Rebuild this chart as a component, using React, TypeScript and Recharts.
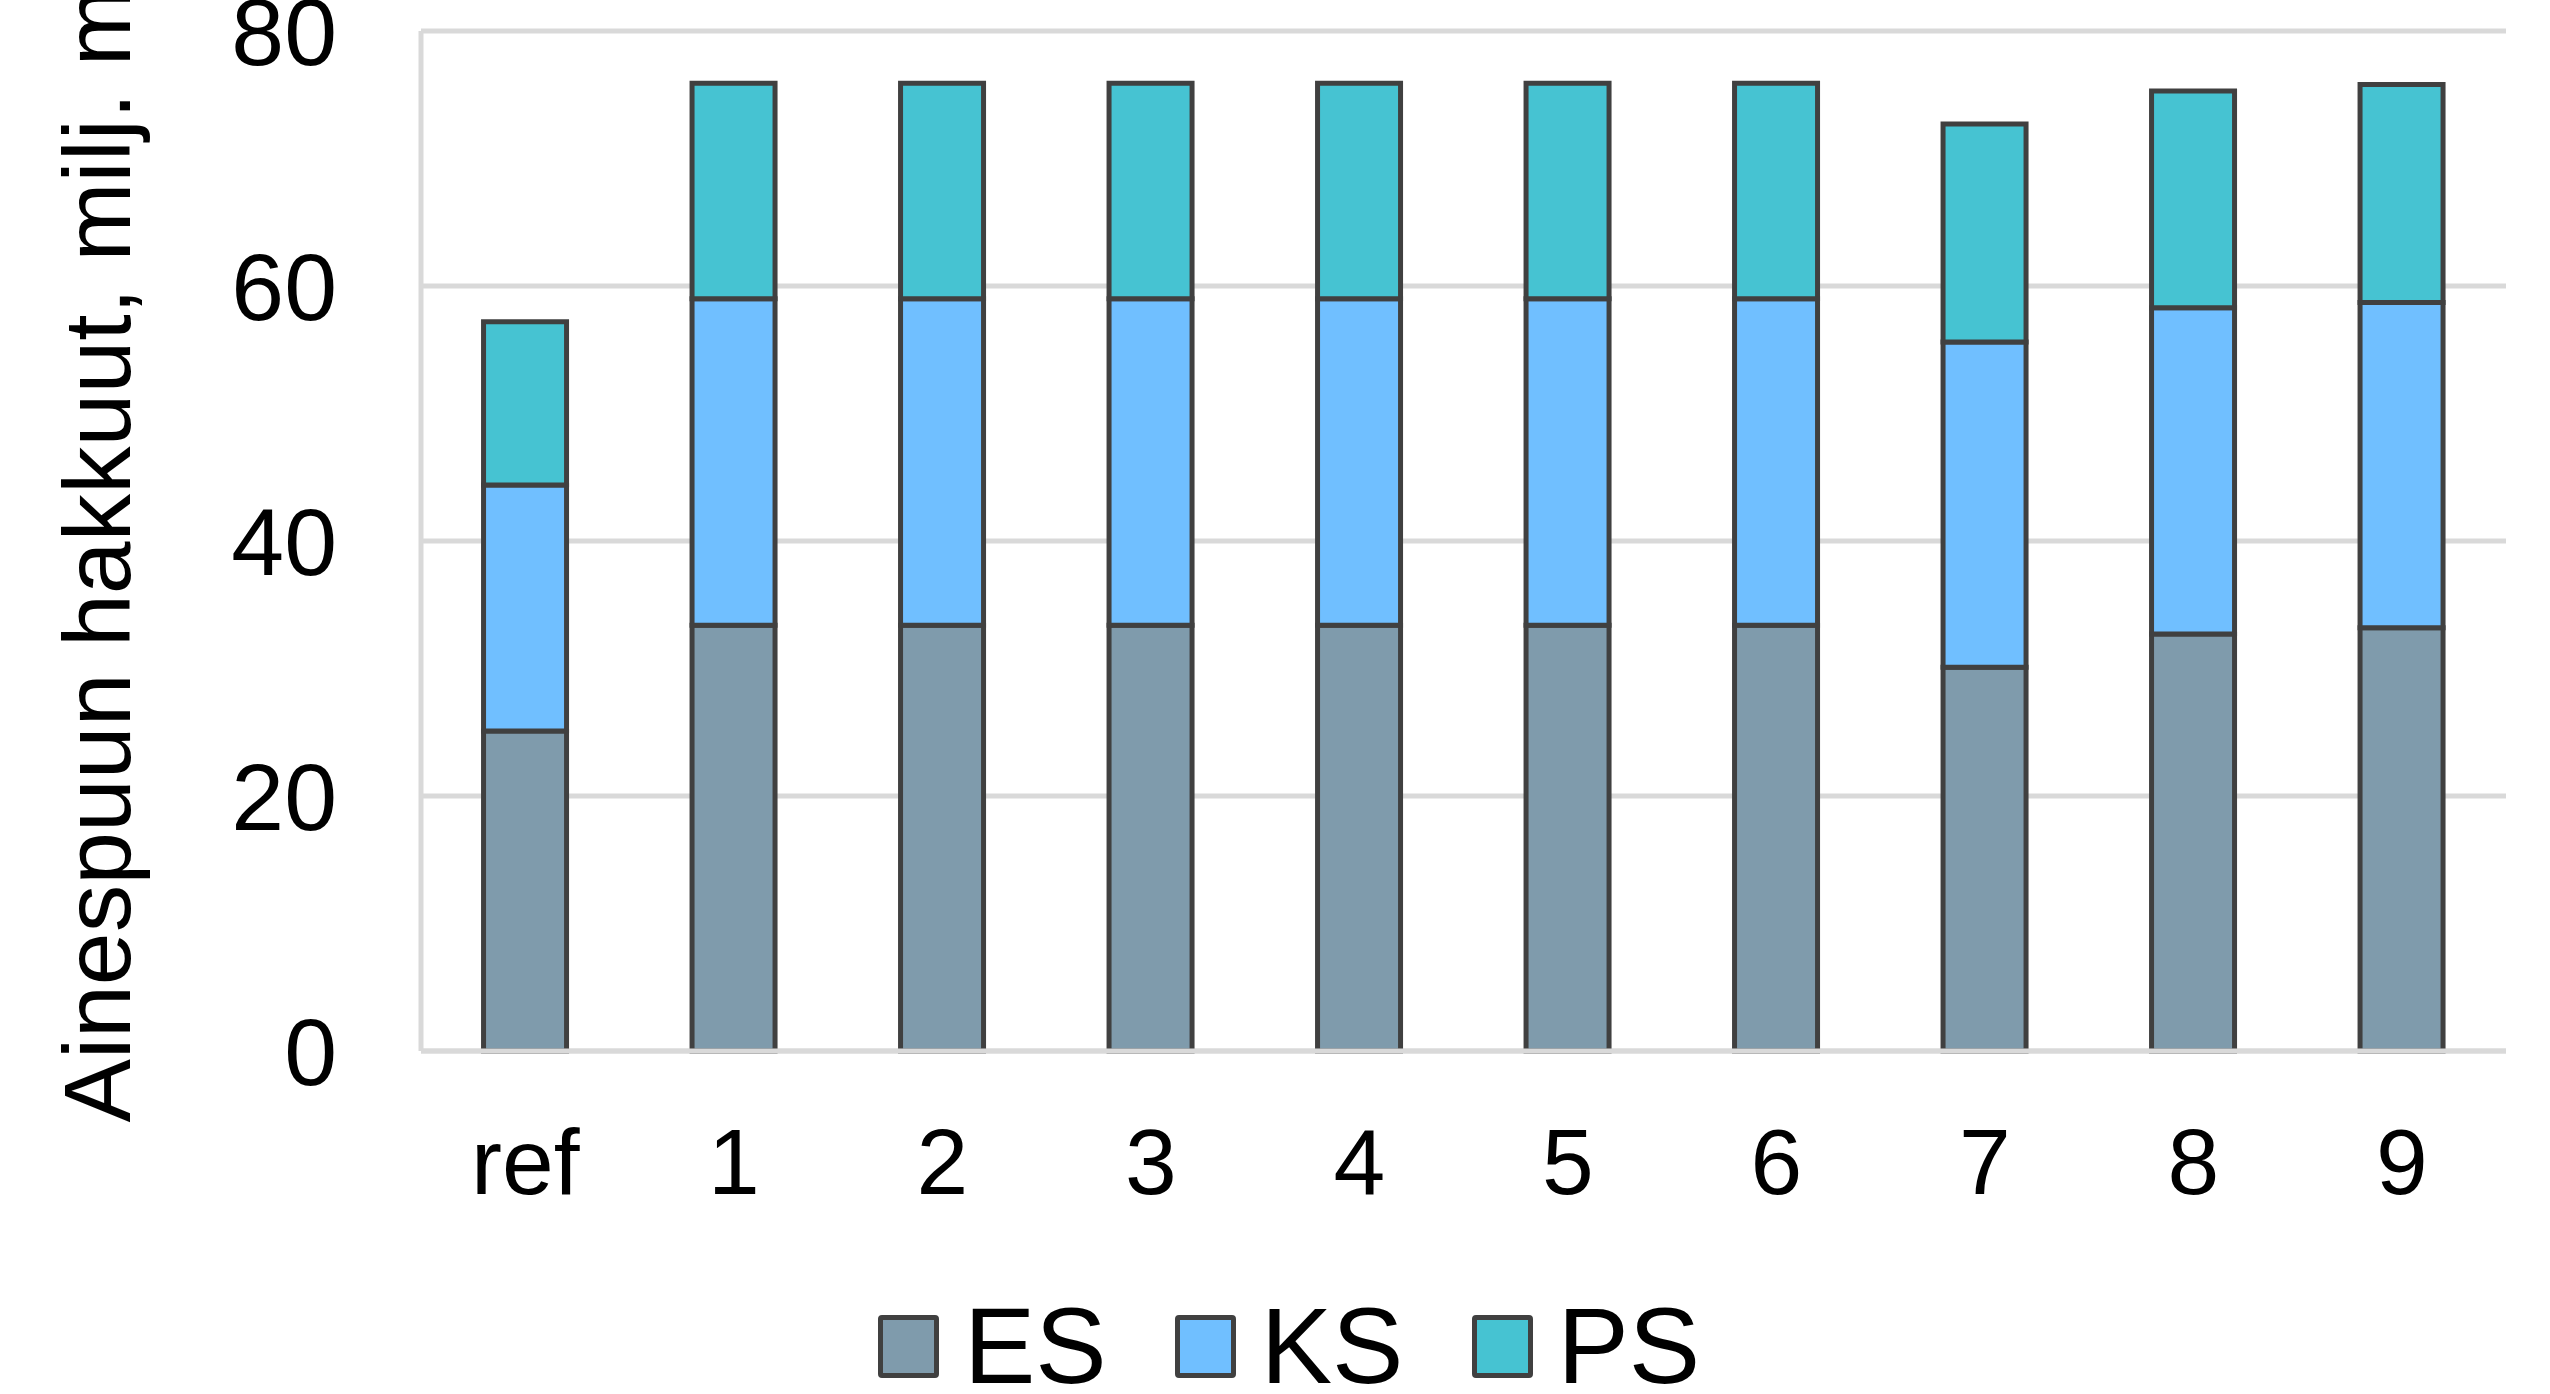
import React from 'react';
import { Bar, BarChart, CartesianGrid, Label, Legend, XAxis, YAxis } from 'recharts';

const categories = ['ref', '1', '2', '3', '4', '5', '6', '7', '8', '9'];
const esValues = [25.1, 33.4, 33.4, 33.4, 33.4, 33.4, 33.4, 30.1, 32.7, 33.2];
const ksValues = [19.3, 25.6, 25.6, 25.6, 25.6, 25.6, 25.6, 25.5, 25.6, 25.5];
const psValues = [12.8, 16.9, 16.9, 16.9, 16.9, 16.9, 16.9, 17.1, 17.0, 17.1];
const yTicks = [0, 20, 40, 60, 80];

const SERIES = [
  { key: 'ES', color: '#7f9bac' },
  { key: 'KS', color: '#70bfff' },
  { key: 'PS', color: '#46c3d2' },
];

const FONT = '"Liberation Sans", Arial, sans-serif';
const EDGE = '#404040';
const GRID = '#d9d9d9';

const data = categories.map((name, i) => ({
  name,
  ES: esValues[i],
  KS: ksValues[i],
  PS: psValues[i],
}));

// legend drawn as plain html so the boxes can get the bar outline
function LegendContent() {
  return (
    <div style={{ display: 'flex', alignItems: 'center', fontFamily: FONT, fontSize: 107, color: '#000' }}>
      {SERIES.map((s, i) => (
        <div key={s.key} style={{ display: 'flex', alignItems: 'center', marginLeft: i === 0 ? 0 : 68 }}>
          <div
            style={{
              width: 51,
              height: 53,
              background: s.color,
              border: `5px solid ${EDGE}`,
              borderRadius: 4,
              marginRight: 25,
            }}
          />
          <span style={{ lineHeight: 'normal' }}>{s.key}</span>
        </div>
      ))}
    </div>
  );
}

function YTitle({ viewBox }: any) {
  const x = 130;
  const y = viewBox.y + viewBox.height / 2 - 2;
  return (
    <text
      x={x}
      y={y}
      transform={`rotate(-90, ${x}, ${y})`}
      textAnchor="middle"
      fontSize={95}
      fontFamily={FONT}
      fill="#000"
    >
      Ainespuun hakkuut, milj. m³
    </text>
  );
}

export default function App() {
  return (
    <div style={{ position: 'absolute', left: 0, top: 0, width: 2550, height: 1394, background: '#fff', overflow: 'hidden' }}>
      <BarChart
        width={2550}
        height={1394}
        data={data}
        margin={{ top: 31, right: 44, bottom: 0, left: 0 }}
        barCategoryGap="30%"
      >
        <CartesianGrid horizontal vertical={false} stroke={GRID} strokeWidth={5} />
        <XAxis
          dataKey="name"
          height={343}
          axisLine={{ stroke: GRID, strokeWidth: 5 }}
          tickLine={false}
          tickSize={0}
          tickMargin={77}
          tick={{ fontSize: 93, fill: '#000', fontFamily: FONT }}
          interval={0}
        />
        <YAxis
          width={421}
          domain={[0, 80]}
          ticks={yTicks}
          interval={0}
          axisLine={{ stroke: GRID, strokeWidth: 5 }}
          tickLine={false}
          tickSize={0}
          tickMargin={84}
          tick={{ fontSize: 95, fill: '#000', fontFamily: FONT }}
        >
          <Label content={YTitle} />
        </YAxis>
        <Legend
          layout="horizontal"
          verticalAlign="middle"
          align="center"
          content={<LegendContent />}
          wrapperStyle={{ left: 878, top: 1284, width: 'auto' }}
        />
        {SERIES.map((s) => (
          <Bar
            key={s.key}
            dataKey={s.key}
            stackId="a"
            fill={s.color}
            stroke={EDGE}
            strokeWidth={5}
            isAnimationActive={false}
          />
        ))}
      </BarChart>
    </div>
  );
}
